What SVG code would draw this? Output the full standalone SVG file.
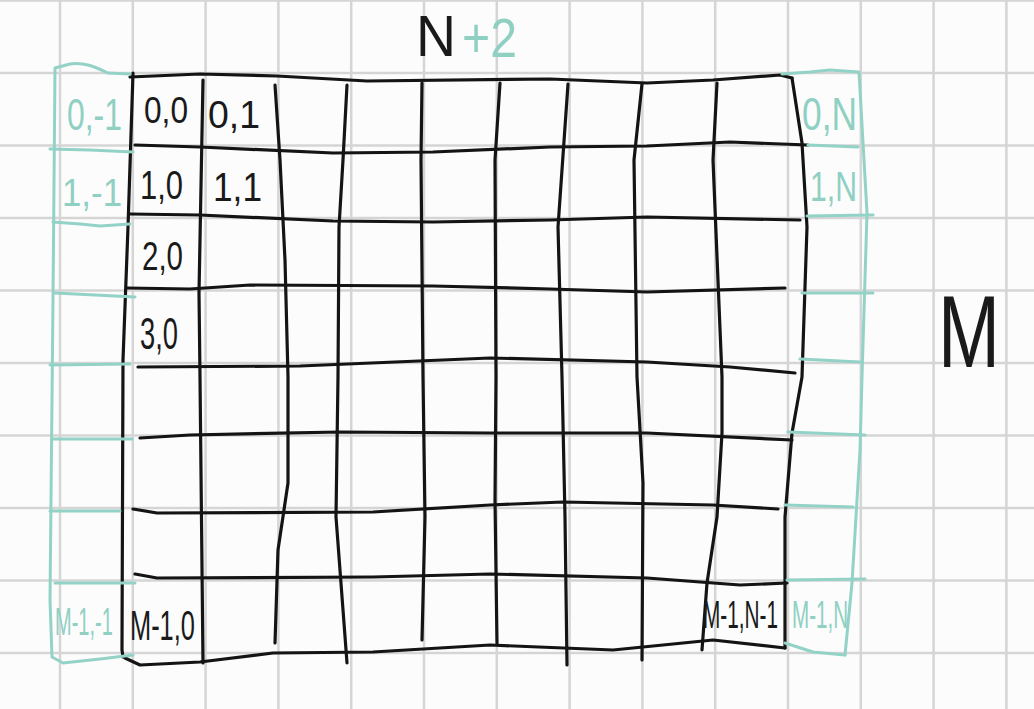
<svg xmlns="http://www.w3.org/2000/svg" width="1034" height="709" viewBox="0 0 1034 709">
<style>
.bg{stroke:#d5d5d5;stroke-width:2.5;fill:none}
.k{stroke:#141414;stroke-width:3.2;fill:none;stroke-linecap:round;stroke-linejoin:round}
.t{stroke:#93d2c6;stroke-width:3;fill:none;stroke-linecap:round;stroke-linejoin:round}
.lk{font-family:"Liberation Sans",Arial,sans-serif;fill:#1a1a1a}
.lt{font-family:"Liberation Sans",Arial,sans-serif;fill:#8fd0c3}
</style>
<rect width="1034" height="709" fill="#fcfcfc"/>
<g id="paper-grid" class="bg">
<path d="M60,0V709M132.8,0V709M205.6,0V709M278.4,0V709M351.2,0V709M424,0V709M496.8,0V709M569.6,0V709M642.4,0V709M715.2,0V709M788,0V709M860.8,0V709M933.6,0V709M1006.4,0V709"/>
<path d="M0,0.5H1034M0,73H1034M0,145.5H1034M0,218H1034M0,290.5H1034M0,363H1034M0,435.5H1034M0,508H1034M0,580.5H1034M0,653H1034"/>
</g>
<g id="connectors">
<g id="black-grid" class="k">
<path d="M130,77 L200,74 L277,76 L367,81 L550,79 L647,83 L713,80 L780,75 L792,78"/>
<path d="M792,78 L802,143 L807,227 L802,377 L792,433 L785,517 L785,648"/>
<path d="M133,73 L128,227 L123,360 L122,650 L123,657"/>
<path d="M125,658 L140,665 L200,662 L273,653 L373,652 L490,645 L613,650 L713,640 L785,648"/>
<path d="M135,145 L200,147 L333,153 L433,152 L550,147 L647,146 L730,142 L808,145"/>
<path d="M130,214 L200,215 L333,221 L433,222 L550,220 L647,217 L800,220"/>
<path d="M127,288 L190,289 L250,285 L433,286 L550,289 L647,292 L785,288"/>
<path d="M138,367 L300,366 L490,358 L647,362 L730,367 L795,373"/>
<path d="M140,438 L190,435 L340,432 L490,433 L647,433 L792,440"/>
<path d="M133,509 L157,513 L373,512 L490,505 L563,502 L713,505 L778,509"/>
<path d="M135,574 L157,578 L373,577 L490,574 L647,578 L740,585 L787,583"/>
<path d="M203,80 L199,293 L200,377 L203,663"/>
<path d="M275,85 L280,160 L285,260 L288,377 L288,483 L278,550 L275,643"/>
<path d="M347,85 L343,160 L339,227 L338,377 L336,517 L347,663"/>
<path d="M422,83 L421,160 L423,377 L425,517 L422,640"/>
<path d="M500,83 L495,160 L496,377 L495,500 L497,643"/>
<path d="M568,84 L558,227 L562,377 L565,517 L567,665"/>
<path d="M642,84 L634,160 L637,377 L643,483 L642,660"/>
<path d="M717,83 L713,160 L722,377 L722,433 L717,517 L707,583 L702,650"/>
</g>
<g id="teal-left" class="t">
<path d="M130,74 L108,73 C95,67 85,62 70,64 L55,68 L53,300 L50,600 L52,657 L63,663 L100,659 L133,655"/>
<path d="M50,149 L90,150 L133,152"/>
<path d="M53,222 L80,224 L100,226 L130,224"/>
<path d="M55,293 L135,297"/>
<path d="M50,365 L130,364"/>
<path d="M52,439 L132,439"/>
<path d="M50,511 L120,511"/>
<path d="M55,583 L135,583"/>
</g>
<g id="teal-right" class="t">
<path d="M782,74 L810,72 L830,70 L858,72"/>
<path d="M859,72 L867,213 L862,377 L860,450 L852,583 L845,655"/>
<path d="M785,643 L813,652 L845,655"/>
<path d="M808,145 L858,147"/>
<path d="M807,216 L873,215"/>
<path d="M802,293 L873,293"/>
<path d="M800,359 L860,362"/>
<path d="M788,432 L865,435"/>
<path d="M785,505 L853,507"/>
<path d="M787,580 L865,579"/>
</g>
</g>
<g id="title-n2"><text class="lk" x="416" y="56" font-size="58" textLength="40" lengthAdjust="spacingAndGlyphs">N</text><text class="lt" x="462" y="57" font-size="56" textLength="55" lengthAdjust="spacingAndGlyphs">+2</text></g>
<g id="label-m"><text class="lk" x="938" y="367" font-size="102" textLength="62" lengthAdjust="spacingAndGlyphs">M</text></g>
<g id="cell-0-m1"><text class="lt" x="67" y="130" font-size="44" textLength="55" lengthAdjust="spacingAndGlyphs">0,-1</text></g>
<g id="cell-1-m1"><text class="lt" x="62" y="206" font-size="38" textLength="60" lengthAdjust="spacingAndGlyphs">1,-1</text></g>
<g id="cell-mm1-m1"><text class="lt" transform="translate(55,635) scale(1,1.9)" font-size="20">M-1,-1</text></g>
<g id="cell-0-0"><text class="lk" x="144" y="123" font-size="36" textLength="44" lengthAdjust="spacingAndGlyphs">0,0</text></g>
<g id="cell-0-1"><text class="lk" x="208" y="128" font-size="38" textLength="52" lengthAdjust="spacingAndGlyphs">0,1</text></g>
<g id="cell-1-0"><text class="lk" x="140" y="199" font-size="40" textLength="43" lengthAdjust="spacingAndGlyphs">1,0</text></g>
<g id="cell-1-1"><text class="lk" x="213" y="201" font-size="40" textLength="49" lengthAdjust="spacingAndGlyphs">1,1</text></g>
<g id="cell-2-0"><text class="lk" x="142" y="270" font-size="40" textLength="41" lengthAdjust="spacingAndGlyphs">2,0</text></g>
<g id="cell-3-0"><text class="lk" x="140" y="349" font-size="44" textLength="38" lengthAdjust="spacingAndGlyphs">3,0</text></g>
<g id="cell-mm1-0"><text class="lk" transform="translate(130,640) scale(1,1.65)" font-size="25.4">M-1,0</text></g>
<g id="cell-mm1-nm1"><text class="lk" transform="translate(703,628) scale(1,1.83)" font-size="20.8">M-1,N-1</text></g>
<g id="cell-mm1-n"><text class="lt" transform="translate(792,628) scale(1,1.85)" font-size="20.6">M-1,N</text></g>
<g id="cell-0-n"><text class="lt" x="802" y="130" font-size="46" textLength="55" lengthAdjust="spacingAndGlyphs">0,N</text></g>
<g id="cell-1-n"><text class="lt" x="810" y="201" font-size="42" textLength="47" lengthAdjust="spacingAndGlyphs">1,N</text></g>
</svg>
